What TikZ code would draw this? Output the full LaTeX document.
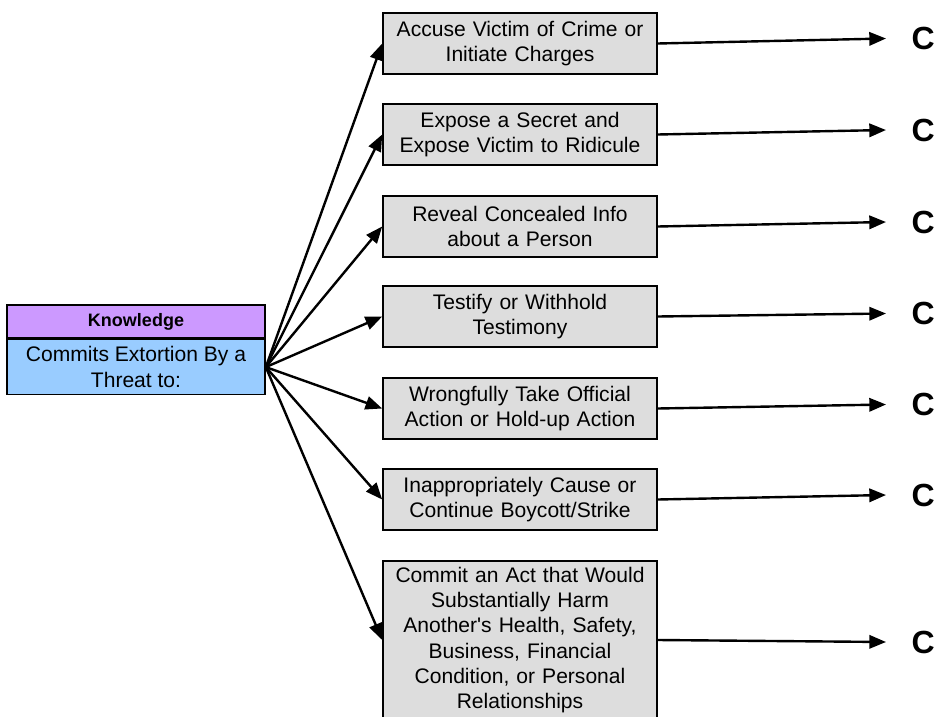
\documentclass[tikz,border=0pt]{standalone}
\usepackage{fontspec}
\setmainfont{Liberation Sans}
\usetikzlibrary{positioning,arrows.meta}

\definecolor{headpurple}{HTML}{CC99FF}
\definecolor{bodyblue}{HTML}{99CCFF}
\definecolor{boxgray}{HTML}{DDDDDD}

\begin{document}
\begin{tikzpicture}[x=0.75pt,y=-0.75pt,
    box/.style={rectangle,draw,line width=1.2pt,fill=boxgray,align=center,
        text width=196pt,minimum width=205.5pt,minimum height=45.75pt,
        inner sep=0pt,font=\fontsize{15.8}{19}\selectfont},
    cnode/.style={anchor=west,inner xsep=19pt,inner ysep=0pt,
        font=\fontsize{24}{28}\selectfont\bfseries},
    arr/.style={line width=1.8pt,-{Triangle[length=12.5pt,width=10pt]}}]
    \useasboundingbox (0,0) rectangle (942,717);
    \node[rectangle,draw,line width=1.2pt,fill=headpurple,minimum width=193.5pt,minimum height=24.75pt,inner sep=0pt,font=\fontsize{13.5}{16}\selectfont\bfseries] (KH) at (136,321.5) {Knowledge};
    \node[rectangle,draw,line width=1.2pt,fill=bodyblue,minimum width=193.5pt,minimum height=41.25pt,inner sep=0pt,align=center,font=\fontsize{15.8}{19}\selectfont,below=0pt of KH] (KB) {Commits Extortion By a\\Threat to:};
    \node[box] (B1) at (520,43.5) {Accuse Victim of Crime or\\Initiate Charges};
    \node[box] (B2) at (520,134.5) {Expose a Secret and\\Expose Victim to Ridicule};
    \node[box] (B3) at (520,226.5) {Reveal Concealed Info\\about a Person};
    \node[box] (B4) at (520,316.5) {Testify or Withhold\\Testimony};
    \node[box] (B5) at (520,408.5) {Wrongfully Take Official\\Action or Hold-up Action};
    \node[box] (B6) at (520,499.5) {Inappropriately Cause or\\Continue Boycott/Strike};
    \node[box,minimum height=118.5pt] (B7) at (520,640) {Commit an Act that Would\\Substantially Harm\\Another\textquotesingle s Health, Safety,\\Business, Financial\\Condition, or Personal\\Relationships};
    \node[cnode] (C1) at (886,38.5) {C};
    \node[cnode] (C2) at (886,130) {C};
    \node[cnode] (C3) at (886,222) {C};
    \node[cnode] (C4) at (886,313.5) {C};
    \node[cnode] (C5) at (886,404.5) {C};
    \node[cnode] (C6) at (886,495) {C};
    \node[cnode] (C7) at (886,642) {C};
    \draw[arr] (KB.east) -- (B1.west);
    \draw[arr] (KB.east) -- (B2.west);
    \draw[arr] (KB.east) -- (B3.west);
    \draw[arr] (KB.east) -- (B4.west);
    \draw[arr] (KB.east) -- (B5.west);
    \draw[arr] (KB.east) -- (B6.west);
    \draw[arr] (KB.east) -- (B7.west);
    \draw[arr] (B1.east) -- (C1.west);
    \draw[arr] (B2.east) -- (C2.west);
    \draw[arr] (B3.east) -- (C3.west);
    \draw[arr] (B4.east) -- (C4.west);
    \draw[arr] (B5.east) -- (C5.west);
    \draw[arr] (B6.east) -- (C6.west);
    \draw[arr] (B7.east) -- (C7.west);
\end{tikzpicture}
\end{document}
